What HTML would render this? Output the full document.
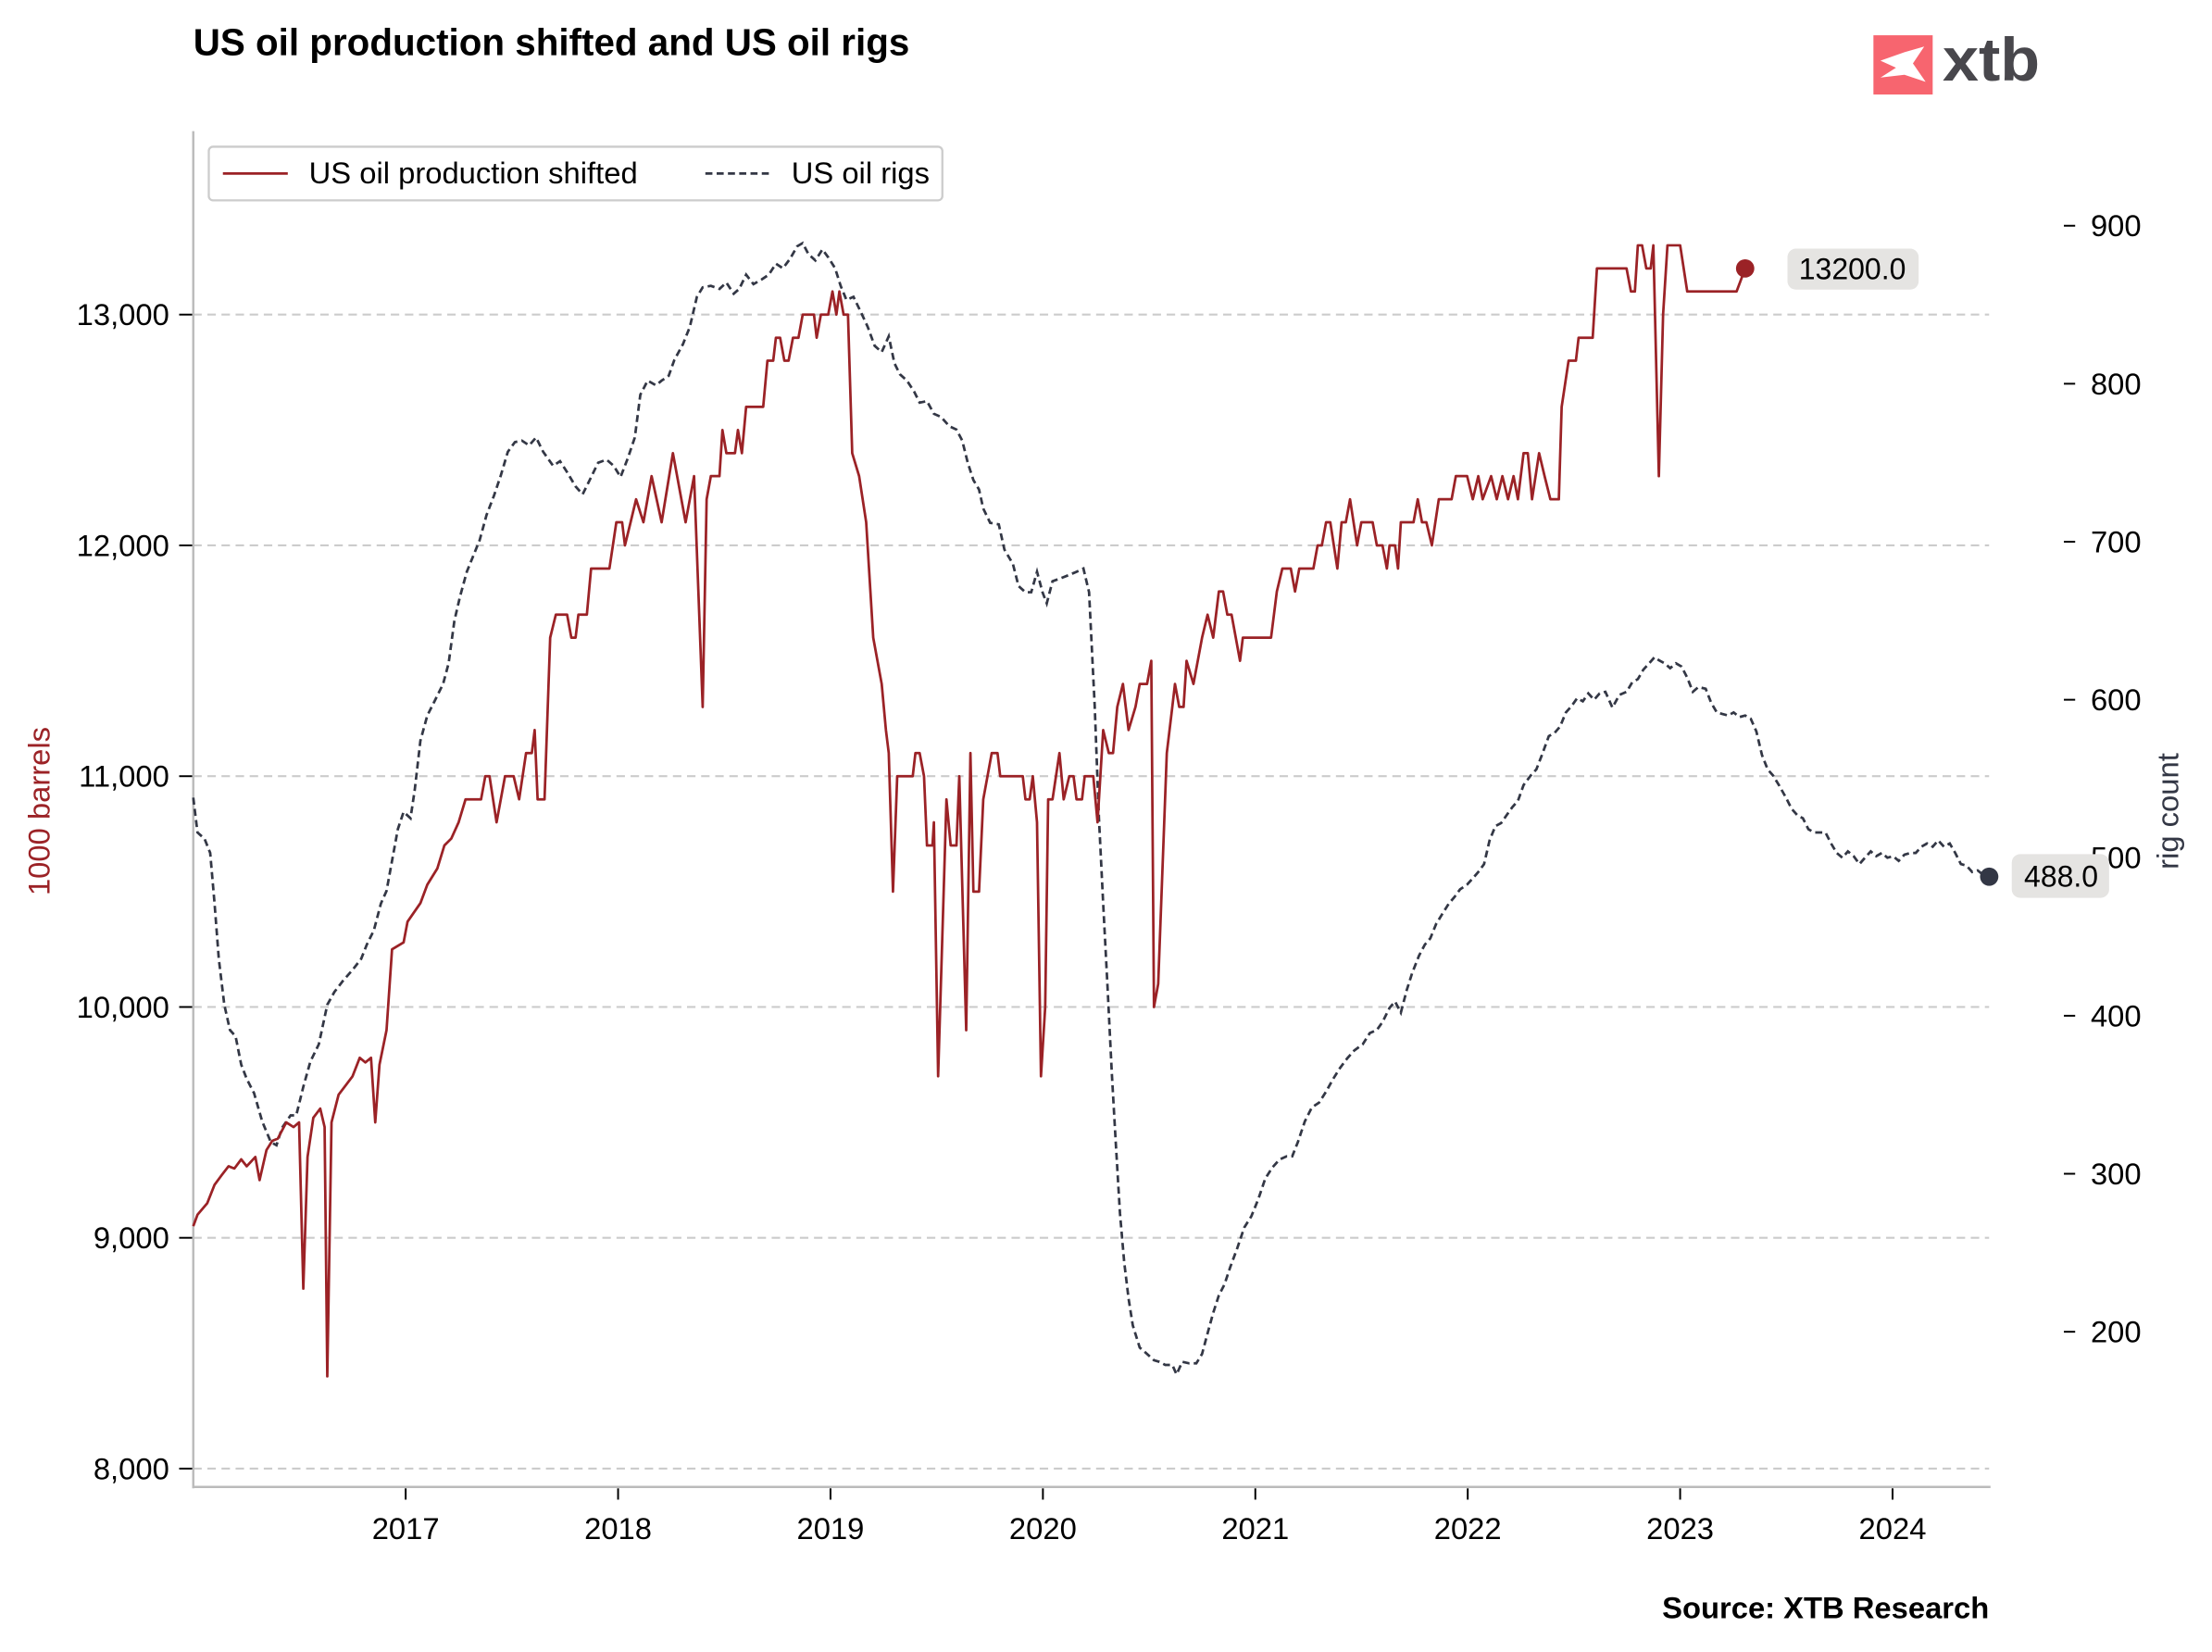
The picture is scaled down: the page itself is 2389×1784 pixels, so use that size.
<!DOCTYPE html>
<html><head><meta charset="utf-8"><style>
html,body{margin:0;padding:0;background:#fff;}
svg{display:block;font-family:"Liberation Sans",Arial,sans-serif;}
</style></head><body>
<svg id="chart" width="2389" height="1784" viewBox="0 0 1568 1171" preserveAspectRatio="none" xmlns="http://www.w3.org/2000/svg">
<text x="137" y="39" font-size="26.5" font-weight="bold" fill="#000">US oil production shifted and US oil rigs</text>
<g>
<rect x="1328" y="25" width="42" height="42" fill="#f7656f"/>
<path d="M1333 43 L1350 37 L1364 33 L1356 45 L1365 58 L1350 53 L1333 55 L1344 48 Z" fill="#fff"/>
<text x="1377" y="57" font-size="43" font-weight="bold" fill="#48474c" textLength="69" lengthAdjust="spacingAndGlyphs">xtb</text>
</g>
<g id="grid"></g>
<g id="axes"></g>
<g id="series"></g>
<g>
<rect x="148" y="104" width="520" height="38" rx="3" fill="#fff" stroke="#cccccc" stroke-width="1.5"/>
<line x1="158" y1="123" x2="204" y2="123" stroke="#9b2226" stroke-width="1.8"/>
<text x="219" y="130" font-size="21.5">US oil production shifted</text>
<line x1="500" y1="123" x2="546" y2="123" stroke="#333745" stroke-width="1.8" stroke-dasharray="5,3"/>
<text x="561" y="130" font-size="21.5">US oil rigs</text>
</g>
<text transform="translate(35,575) rotate(-90)" text-anchor="middle" font-size="21.5" fill="#9b2226">1000 barrels</text>
<text transform="translate(1544,575) rotate(-90)" text-anchor="middle" font-size="21.5" fill="#333745">rig count</text>
<text x="1410" y="1147" text-anchor="end" font-size="21.5" font-weight="bold">Source: XTB Research</text>
</svg>
<script>
const xTickLabels=["2017","2018","2019","2020","2021","2022","2023","2024"];
const leftTicks=[8000,9000,10000,11000,12000,13000];
const rightTicks=[200,300,400,500,600,700,800,900];
const prodT=[0,.020,.066,.100,.133,.166,.193,.226,.252,.292,.312,.345,.372,.398,.438,.472,.498,.518,.538,.565,.598,.618,.631,.651,.684,.717,.750,.784,.810,.837,.857,.877,.910,.936,.990,1.009,1.069,1.102,1.149,1.182,1.215,1.249,1.282,1.355,1.375,1.395,1.428,1.468,1.508,1.534,1.567,1.594,1.607,1.621,1.654,1.680,1.707,1.760,1.780,1.800,1.813,1.853,1.873,1.959,1.992,2.019,2.032,2.059,2.085,2.119,2.158,2.205,2.258,2.318,2.358,2.398,2.417,2.437,2.477,2.491,2.510,2.550,2.564,2.583,2.603,2.683,2.703,2.730,2.743,2.763,2.783,2.803,2.823,2.849,2.869,2.922,2.935,2.955,2.989,3.009,3.028,3.042,3.062,3.082,3.102,3.135,3.168,3.201,3.241,3.261,3.274,3.294,3.314,3.387,3.400,3.420,3.440,3.454,3.480,3.487,3.507,3.546,3.566,3.593,3.606,3.639,3.659,3.673,3.699,3.719,3.759,3.786,3.799,3.905,3.918,3.938,3.952,3.972,3.991,4.011,4.025,4.045,4.078,4.098,4.124,4.144,4.158,4.184,4.197,4.237,4.257,4.284,4.310,4.330,4.350,4.377,4.403,4.436,4.456,4.490,4.510,4.523,4.543,4.583,4.609,4.622,4.642,4.662,4.676,4.709,4.749,4.775,4.802,4.828,4.848,4.868,4.888,4.928,4.941,5.074,5.101,5.127,5.167,5.187,5.207,5.273,5.293,5.313,5.333,5.353,5.386,5.406,5.426,5.446,5.479,5.499,5.552,5.572,5.599,5.619,5.632,5.658,5.672,5.685,5.745,5.765,5.785,5.805,5.831,5.864,5.924,5.944,5.997,6.024,6.050,6.070,6.110,6.137,6.163,6.190,6.216,6.236,6.263,6.283,6.303,6.336,6.362,6.389,6.429,6.442,6.475,6.509,6.522,6.588,6.608,6.748,6.768,6.787,6.801,6.821,6.841,6.861,6.874,6.900,6.920,6.940,7.000,7.033,7.266,7.306];
const prodV=[9050,9100,9150,9230,9270,9310,9300,9340,9310,9350,9250,9380,9420,9430,9500,9480,9500,8780,9350,9520,9560,9480,8400,9500,9620,9660,9700,9780,9760,9780,9500,9750,9900,10250,10280,10370,10450,10530,10600,10700,10730,10800,10900,10900,11000,11000,10800,11000,11000,10900,11100,11100,11200,10900,10900,11600,11700,11700,11600,11600,11700,11700,11900,11900,12100,12100,12000,12100,12200,12100,12300,12100,12400,12100,12300,11300,12200,12300,12300,12500,12400,12400,12500,12400,12600,12600,12800,12800,12900,12900,12800,12800,12900,12900,13000,13000,12900,13000,13000,13100,13000,13100,13000,13000,12400,12300,12100,11600,11400,11200,11100,10500,11000,11000,11100,11100,11000,10700,10700,10800,9700,10900,10700,10700,11000,9900,11100,10500,10500,10900,11100,11100,11000,11000,10900,10900,11000,10800,9700,10000,10900,10900,11100,10900,11000,11000,10900,10900,11000,11000,10800,11200,11100,11100,11300,11400,11200,11300,11400,11400,11500,10000,10100,11100,11300,11400,11300,11300,11500,11400,11600,11700,11600,11800,11800,11700,11700,11500,11600,11600,11800,11900,11900,11800,11900,11900,12000,12000,12100,12100,11900,12100,12100,12200,12000,12100,12100,12000,12000,11900,12000,12000,11900,12100,12100,12200,12100,12100,12000,12200,12200,12300,12300,12200,12300,12200,12300,12200,12300,12200,12300,12200,12400,12400,12200,12400,12300,12200,12200,12600,12800,12800,12900,12900,13200,13200,13100,13100,13300,13300,13200,13200,13300,12300,13000,13300,13300,13100,13100,13200];
const rigT=[0,.020,.053,.080,.100,.120,.146,.173,.199,.226,.252,.286,.325,.365,.392,.418,.458,.485,.518,.551,.591,.631,.664,.704,.750,.790,.817,.850,.883,.910,.936,.963,.990,1.023,1.043,1.069,1.102,1.136,1.176,1.202,1.229,1.255,1.288,1.315,1.348,1.381,1.415,1.448,1.481,1.514,1.547,1.581,1.614,1.647,1.694,1.727,1.760,1.800,1.833,1.866,1.906,1.946,1.979,2.012,2.046,2.079,2.105,2.139,2.178,2.205,2.238,2.265,2.305,2.338,2.371,2.398,2.437,2.477,2.510,2.544,2.570,2.603,2.637,2.676,2.710,2.743,2.776,2.809,2.843,2.869,2.896,2.929,2.962,2.989,3.022,3.048,3.075,3.108,3.141,3.175,3.208,3.241,3.274,3.301,3.327,3.360,3.394,3.420,3.454,3.487,3.520,3.560,3.593,3.620,3.646,3.673,3.699,3.719,3.752,3.792,3.819,3.859,3.885,3.918,3.945,3.972,3.998,4.018,4.045,4.085,4.124,4.158,4.191,4.217,4.244,4.264,4.284,4.304,4.324,4.343,4.363,4.383,4.403,4.423,4.456,4.490,4.523,4.549,4.576,4.609,4.629,4.656,4.689,4.722,4.749,4.775,4.802,4.828,4.855,4.882,4.915,4.948,4.981,5.014,5.047,5.081,5.114,5.147,5.174,5.200,5.233,5.266,5.300,5.333,5.366,5.399,5.433,5.466,5.506,5.539,5.572,5.599,5.632,5.658,5.685,5.712,5.738,5.771,5.798,5.824,5.851,5.878,5.911,5.937,5.964,5.997,6.024,6.050,6.077,6.103,6.130,6.157,6.183,6.210,6.236,6.263,6.296,6.323,6.349,6.382,6.409,6.435,6.462,6.489,6.515,6.542,6.568,6.595,6.621,6.648,6.681,6.714,6.748,6.774,6.801,6.827,6.854,6.880,6.900,6.927,6.953,6.980,7.007,7.033,7.060,7.086,7.120,7.146,7.173,7.199,7.226,7.252,7.279,7.306,7.332,7.359,7.385,7.412,7.438,7.465,7.498,7.525,7.551,7.578,7.604,7.631,7.658,7.684,7.711,7.737,7.764,7.790,7.817,7.844,7.870,7.897,7.923,7.950,7.976,8.003,8.029,8.056,8.083,8.109,8.136,8.162,8.189,8.215,8.242,8.269,8.295,8.322,8.348,8.375,8.401,8.428,8.455];
const rigV=[538,516,512,503,471,436,407,391,387,369,360,351,333,320,318,329,337,337,355,371,382,407,415,422,429,436,445,454,471,479,498,518,529,525,543,574,590,599,610,623,650,665,681,690,701,717,729,742,757,763,764,761,766,757,748,751,744,735,730,739,750,752,748,741,753,766,793,802,799,802,805,815,825,836,855,861,862,860,864,857,860,869,863,866,869,876,873,879,887,889,882,878,885,880,873,862,853,855,846,836,824,820,830,813,806,802,795,788,789,781,779,773,771,764,750,739,733,721,712,711,695,686,672,668,668,681,668,661,675,677,679,681,683,668,596,525,471,418,364,320,275,244,221,204,190,186,182,181,179,179,173,181,180,180,186,199,212,223,230,241,253,266,273,284,297,304,309,311,311,320,333,342,345,352,360,367,373,378,382,389,391,396,405,409,402,416,427,438,445,449,458,464,471,475,480,483,487,491,496,511,520,522,527,532,536,546,552,556,565,577,579,583,592,596,601,599,604,600,604,605,595,603,605,611,613,619,623,627,625,623,620,623,621,614,605,608,607,598,592,591,590,592,589,590,588,580,565,556,552,546,538,531,527,525,518,516,516,516,509,503,500,504,501,496,500,504,501,503,500,501,498,502,503,503,507,509,507,511,507,509,503,496,495,491,492,489,488];
const NS="http://www.w3.org/2000/svg";
const X0=137,XW=150.57;
function xs(t){return X0+t*XW;}
function yl(v){return 223+(13000-v)*0.1636;}
function yr(v){return 160+(900-v)*1.12;}
function mk(tag,attrs,parent){const e=document.createElementNS(NS,tag);for(const k in attrs)e.setAttribute(k,attrs[k]);parent.appendChild(e);return e;}
const grid=document.getElementById('grid'),axes=document.getElementById('axes'),ser=document.getElementById('series');
leftTicks.forEach(v=>{
  const g=mk('line',{x1:137,x2:1410,y1:yl(v),y2:yl(v),stroke:'#cccccc','stroke-width':1.4,'stroke-dasharray':'6,4'},grid);
  
  
  mk('line',{x1:127,x2:137,y1:yl(v),y2:yl(v),stroke:'#000','stroke-width':1.3},axes);
  const t=mk('text',{x:120,y:yl(v)+7.5,'text-anchor':'end','font-size':21.5},axes);
  
  
  t.textContent=v.toLocaleString('en-US');
});
rightTicks.forEach(v=>{
  mk('line',{x1:1463,x2:1471,y1:yr(v),y2:yr(v),stroke:'#000','stroke-width':1.3},axes);
  const t=mk('text',{x:1482,y:yr(v)+7.5,'font-size':21.5},axes);
  
  
  t.textContent=v;
});
xTickLabels.forEach((lab,i)=>{
  const x=xs(i+1);
  mk('line',{x1:x,x2:x,y1:1055,y2:1063,stroke:'#000','stroke-width':1.3},axes);
  const t=mk('text',{x:x,y:1091,'text-anchor':'middle','font-size':21.5},axes);
  
  
  t.textContent=lab;
});
const ls=mk('line',{x1:137,x2:137,y1:93,y2:1055,stroke:'#bbbbbb','stroke-width':1.6},axes);


const bs=mk('line',{x1:137,x2:1411,y1:1054,y2:1054,stroke:'#bbbbbb','stroke-width':1.6},axes);


let d='';rigT.forEach((t,i)=>{d+=(i?'L':'M')+xs(t).toFixed(1)+' '+yr(rigV[i]).toFixed(1);});
const rp=mk('path',{d:d,fill:'none',stroke:'#333745','stroke-width':1.8,'stroke-dasharray':'5,3'},ser);


d='';prodT.forEach((t,i)=>{d+=(i?'L':'M')+xs(t).toFixed(1)+' '+yl(prodV[i]).toFixed(1);});
const pp=mk('path',{d:d,fill:'none',stroke:'#9b2226','stroke-width':1.8,'stroke-linejoin':'round'},ser);


const pl=prodT.length-1, rl=rigT.length-1;
const px=xs(prodT[pl]),py=yl(prodV[pl]);
const pd=mk('circle',{cx:px,cy:py,r:6.5,fill:'#9b2226'},ser);


const pb=mk('rect',{x:px+30,y:py-14,width:93,height:29,rx:6,fill:'#e5e4e2'},ser);


const ptx=mk('text',{x:px+76,y:py+7.5,'text-anchor':'middle','font-size':21},ser);


ptx.textContent=prodV[pl].toFixed(1);
const rx=xs(rigT[rl]),ry=yr(rigV[rl]);
const rd=mk('circle',{cx:rx,cy:ry,r:6.5,fill:'#333745'},ser);


const rb=mk('rect',{x:rx+16,y:ry-16,width:69,height:31,rx:6,fill:'#e5e4e2'},ser);


const rtx=mk('text',{x:rx+51,y:ry+7,'text-anchor':'middle','font-size':21},ser);


rtx.textContent=rigV[rl].toFixed(1);
</script>
</body></html>
